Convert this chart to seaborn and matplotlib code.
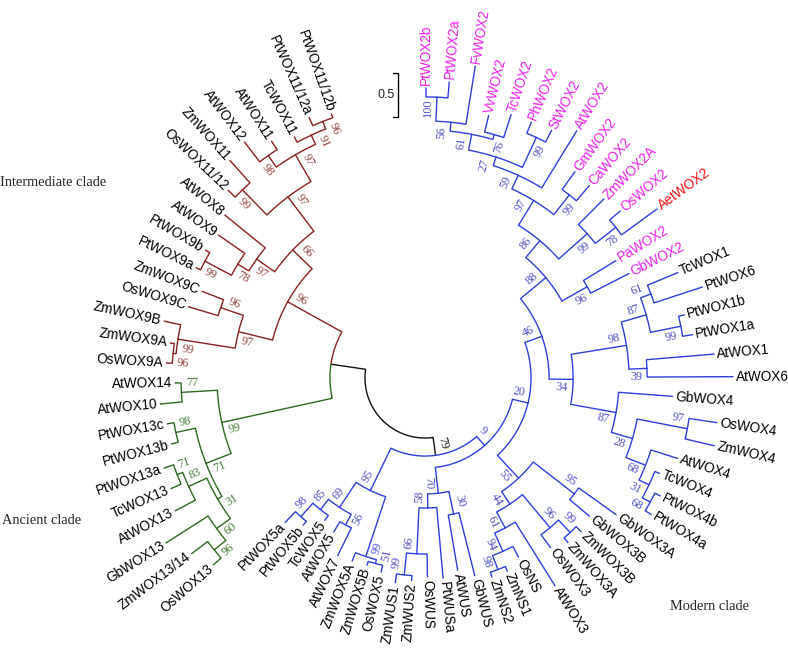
import numpy as np
import pandas as pd
import matplotlib
matplotlib.use("Agg")
import matplotlib.pyplot as plt
import seaborn as sns

# ------------------------------------------------------------------
# Tree data (Newick: name:branch_length, internal nodes carry bootstrap)
# ------------------------------------------------------------------
WOX2_CLADE = ("((((((((PtWOX2b:0.102,PtWOX2a:0.182)100:0.273,FvWOX2:0.670)56:0.102,"
              "(VvWOX2:0.193,TcWOX2:0.273)76:0.057)61:0.182,(PhWOX2:0.136,StWOX2:0.148)99:0.375)27:0.102,"
              "AtWOX2:0.761)59:0.170,(GmWOX2:0.250,CaWOX2:0.227)99:0.284)97:0.330,"
              "(ZmWOX2A:0.409,(OsWOX2:0.159,AetWOX2:0.500)78:0.295)99:0.432)86:0.250,"
              "(PaWOX2:0.432,GbWOX2:0.489)96:0.330)88")
WOX1_CLADE = ("(((TcWOX1:0.375,PtWOX6:0.580)61:0.125,(PtWOX1b:0.068,PtWOX1a:0.114)99:0.352)87:0.295,"
              "(AtWOX1:0.773,AtWOX6:0.977)39:0.205)98")
WOX4_CLADE = ("(GbWOX4:0.614,((OsWOX4:0.318,ZmWOX4:0.341)97:0.580,(AtWOX4:0.318,(TcWOX4:0.057,"
              "(PtWOX4b:0.068,PtWOX4a:0.080)68:0.102)31:0.125)68:0.239)28:0.250)87")
WOX3_CLADE = ("((GbWOX3A:0.523,GbWOX3B:0.295)95:0.591,(((ZmWOX3B:0.080,ZmWOX3A:0.068)99:0.193,"
              "OsWOX3:0.182)96:0.489,(AtWOX3:0.852,(OsNS:0.136,(ZmNS1:0.057,ZmNS2:0.057)98:0.170)94:0.227)61:0.205)44:0.170)55")
WUS_CLADE = ("((GbWUS:0.739,AtWUS:0.636)30:0.261,(PtWUSa:0.807,(OsWUS:0.261,"
             "(ZmWUS2:0.057,ZmWUS1:0.102)99:0.250)66:0.523)58:0.159)70")
WOX5_CLADE = ("(((OsWOX5:0.080,ZmWOX5B:0.045)51:0.045,ZmWOX5A:0.102)99:0.716,((AtWOX7:0.352,AtWOX5:0.136)56:0.136,"
              "(TcWOX5:0.068,(PtWOX5b:0.057,PtWOX5a:0.170)98:0.205)85:0.148)69:0.341)95")
ANCIENT_CLADE = ("(((((OsWOX13:0.114,ZmWOX13/14:0.227)96:0.170,GbWOX13:0.568)60:0.193,"
                 "(AtWOX13:0.261,(TcWOX13:0.125,PtWOX13a:0.114)71:0.068)83:0.227)31:0.057,"
                 "(PtWOX13b:0.080,PtWOX13c:0.080)98:0.227)71:0.307,(AtWOX10:0.250,AtWOX14:0.068)77:0.409)99")
INTERMEDIATE_CLADE = ("((((OsWOX9A:0.068,ZmWOX9A:0.045)96:0.034,ZmWOX9B:0.193)99:0.659,"
                      "(OsWOX9C:0.352,ZmWOX9C:0.261)96:0.273)97:0.398,"
                      "((((PtWOX9a:0.057,PtWOX9b:0.057)99:0.341,AtWOX9:0.364)78:0.148,AtWOX8:0.591)97:0.250,"
                      "((OsWOX11/12:0.114,ZmWOX11:0.341)99:0.398,((AtWOX12:0.284,AtWOX11:0.114)98:0.159,"
                      "(TcWOX11:0.068,(PtWOX11/12a:0.102,PtWOX11/12b:0.045)96:0.091)91:0.114)97:0.352)97:0.489)66:0.307)96")
BACKBONE = ("((((({WOX2}:0.375,({WOX1}:0.636,{WOX4}:0.523)34:0.273)46:0.205,{WOX3}:0.352)20:0.182,"
            "{WUS}:0.295)9:0.136,{WOX5}:0.534)79:0.205,({ANC}:1.284,{INT}:0.705):0.398);")

MAGENTA_LEAVES = ["PtWOX2b", "PtWOX2a", "FvWOX2", "VvWOX2", "TcWOX2", "PhWOX2", "StWOX2",
                  "AtWOX2", "GmWOX2", "CaWOX2", "ZmWOX2A", "OsWOX2", "PaWOX2", "GbWOX2"]
RED_LEAVES = ["AetWOX2"]
CLADE_LABELS = ["Intermediate clade", "Ancient clade", "Modern clade"]
SCALE_VALUE = 0.5
SCALE_LABEL = "0.5"

# ------------------------------------------------------------------
# Layout / style
# ------------------------------------------------------------------
CX, CY = 425.0, 378.0
R0 = 60.0
PX_PER_UNIT = 88.0
FIRST_ANGLE = 89.8
LAST_ANGLE = -250.5

LINE_COLORS = {"root": "#111111", "modern": "#2f3fdc",
               "ancient": "#2e6a1e", "intermediate": "#8b2020"}
BOOT_COLORS = {"root": "#111111", "modern": "#5050cc",
               "ancient": "#467f36", "intermediate": "#984440"}

sns.set_theme(style="white")
plt.rcParams["font.family"] = ["Liberation Sans", "DejaVu Sans"]


def parse_newick(text):
    pos = 0

    def node():
        nonlocal pos
        n = {"children": [], "name": "", "boot": "", "bl": 0.0}
        if text[pos] == "(":
            pos += 1
            while True:
                n["children"].append(node())
                ch = text[pos]
                pos += 1
                if ch == ")":
                    break
        start = pos
        while text[pos] not in ":,();":
            pos += 1
        tok = text[start:pos]
        if n["children"]:
            n["boot"] = tok
        else:
            n["name"] = tok
        if text[pos] == ":":
            pos += 1
            start = pos
            while text[pos] not in ",();":
                pos += 1
            n["bl"] = float(text[start:pos])
        return n

    return node()


tree_text = BACKBONE.format(WOX2=WOX2_CLADE, WOX1=WOX1_CLADE, WOX4=WOX4_CLADE,
                            WOX3=WOX3_CLADE, WUS=WUS_CLADE, WOX5=WOX5_CLADE,
                            ANC=ANCIENT_CLADE, INT=INTERMEDIATE_CLADE)
root = parse_newick(tree_text)


def tag(n, clade):
    n["clade"] = clade
    for c in n["children"]:
        tag(c, clade)


tag(root, "root")
modern_node, ai_node = root["children"]
for c in modern_node["children"]:
    tag(c, "modern")
tag(ai_node["children"][0], "ancient")
tag(ai_node["children"][1], "intermediate")


def count_leaves(n):
    return 1 if not n["children"] else sum(count_leaves(c) for c in n["children"])


n_leaves = count_leaves(root)
step = (FIRST_ANGLE - LAST_ANGLE) / (n_leaves - 1)
leaves = []


def layout(n, depth):
    n["r"] = R0 + depth * PX_PER_UNIT
    if not n["children"]:
        n["theta"] = FIRST_ANGLE - len(leaves) * step
        leaves.append(n)
    else:
        for c in n["children"]:
            layout(c, depth + c["bl"])
        n["theta"] = 0.5 * (n["children"][0]["theta"] + n["children"][-1]["theta"])


layout(root, 0.0)


def polar(r, th):
    t = np.radians(th)
    return CX + r * np.cos(t), CY - r * np.sin(t)


rows = []
boots = []
stack = [root]
seg = 0
while stack:
    n = stack.pop()
    for i, c in enumerate(n["children"]):
        npts = max(2, int(abs(c["theta"] - n["theta"]) * 2) + 2)
        for t in np.linspace(n["theta"], c["theta"], npts):
            x, y = polar(n["r"], t)
            rows.append((seg, x, y, c["clade"]))
        x, y = polar(c["r"], c["theta"])
        rows.append((seg, x, y, c["clade"]))
        seg += 1
        if c["children"] and c["boot"]:
            boots.append((c, 1 if i == 0 else -1))
        stack.append(c)

df = pd.DataFrame(rows, columns=["seg", "x", "y", "clade"])

fig = plt.figure(figsize=(7.88, 6.56), dpi=100)
ax = fig.add_axes([0, 0, 1, 1])
sns.lineplot(data=df, x="x", y="y", units="seg", estimator=None, hue="clade",
             palette=LINE_COLORS, sort=False, legend=False, linewidth=1.0, ax=ax)
ax.set_xlim(0, 788)
ax.set_ylim(656, 0)
ax.axis("off")


def orient(th):
    th = th % 360
    if 90 < th < 270:
        return th - 180, True
    return (th if th <= 90 else th - 360), False


# leaf labels
for lf in leaves:
    rot, flip = orient(lf["theta"])
    x, y = polar(lf["r"] + 3, lf["theta"])
    col = "black"
    if lf["name"] in MAGENTA_LEAVES:
        col = "#f020f0"
    if lf["name"] in RED_LEAVES:
        col = "#ff1010"
    ax.text(x, y, lf["name"], rotation=rot, rotation_mode="anchor",
            ha="right" if flip else "left", va="center", fontsize=9.8,
            family="Liberation Sans", color=col)

# bootstrap labels
for n, sign in boots:
    rl = n["r"] - 11
    th = n["theta"] + sign * np.degrees(8.5 / rl)
    rot, flip = orient(th)
    x, y = polar(rl, th)
    ax.text(x, y, n["boot"], rotation=rot, rotation_mode="anchor", ha="center",
            va="center", fontsize=8.8, family="Liberation Serif",
            color=BOOT_COLORS[n["clade"]])

# clade labels
ax.text(0, 182, CLADE_LABELS[0], family="Liberation Serif", fontsize=10.4, ha="left", va="center")
ax.text(2, 520, CLADE_LABELS[1], family="Liberation Serif", fontsize=10.4, ha="left", va="center")
ax.text(670, 607, CLADE_LABELS[2], family="Liberation Serif", fontsize=10.4, ha="left", va="center")

# scale bar
sb_x, sb_top = 398, 73
sb_len = SCALE_VALUE * PX_PER_UNIT
ax.plot([sb_x - 5, sb_x, sb_x, sb_x - 5], [sb_top, sb_top, sb_top + sb_len, sb_top + sb_len],
        color="black", lw=1.0)
ax.text(sb_x - 3, sb_top + sb_len / 2, SCALE_LABEL, ha="right", va="center",
        fontsize=9, family="Liberation Sans")

fig.savefig("out.png", dpi=100)
